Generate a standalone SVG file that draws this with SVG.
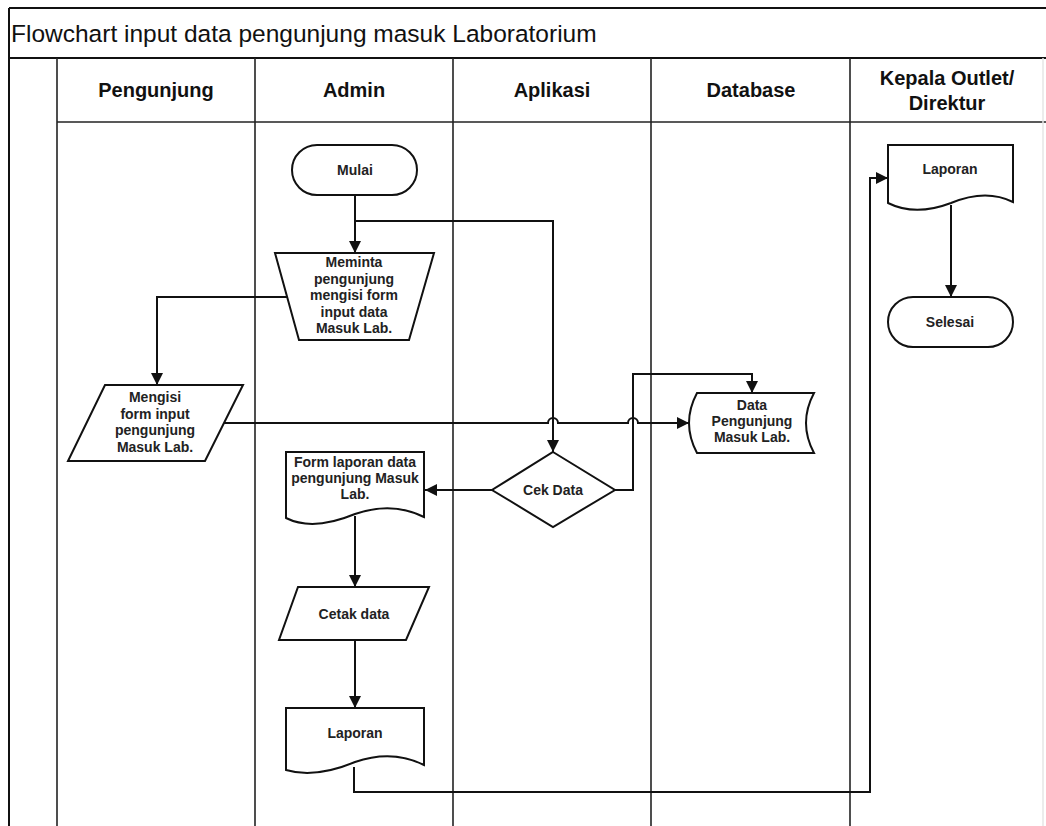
<svg xmlns="http://www.w3.org/2000/svg" width="1046" height="826" viewBox="0 0 1046 826">
  <defs>
    <marker id="arrow" viewBox="0 0 12 12" refX="12" refY="6" markerWidth="12" markerHeight="12" markerUnits="userSpaceOnUse" orient="auto">
      <path d="M0,0 L12,6 L0,12 Z" fill="#111"/>
    </marker>
  </defs>
  <style>
    .frame { stroke: #111; stroke-width: 2; fill: none; }
    .lane { stroke: #222; stroke-width: 1.6; fill: none; }
    .shape { stroke: #111; stroke-width: 2; fill: #fff; }
    .conn { stroke: #111; stroke-width: 2; fill: none; }
    .title { font-family: "Liberation Sans", Arial, sans-serif; font-size: 24.5px; fill: #111; }
    .head { font-family: "Liberation Sans", Arial, sans-serif; font-size: 20px; font-weight: bold; fill: #111; text-anchor: middle; dominant-baseline: central; }
    .lbl { font-family: "Liberation Sans", Arial, sans-serif; font-size: 14px; font-weight: bold; fill: #222; text-anchor: middle; dominant-baseline: central; }
  </style>
  <rect width="1046" height="826" fill="#fff"/>

  <!-- pool frame, title bar and swimlanes -->
  <g id="pool">
    <line class="frame" x1="9" y1="8" x2="1046" y2="8"/>
    <line class="frame" x1="9" y1="8" x2="9" y2="826"/>
    <line class="frame" x1="9" y1="58" x2="1046" y2="58"/>
    <line class="lane" x1="57" y1="122" x2="1046" y2="122"/>
    <line class="lane" x1="57" y1="58" x2="57" y2="826"/>
    <line class="lane" x1="255" y1="58" x2="255" y2="826"/>
    <line class="lane" x1="453" y1="58" x2="453" y2="826"/>
    <line class="lane" x1="651" y1="58" x2="651" y2="826"/>
    <line class="lane" x1="850" y1="58" x2="850" y2="826"/>
    <line x1="1043" y1="58" x2="1043" y2="826" stroke="#e6e6e6" stroke-width="1.5"/>
    <text class="title" x="11" y="42">Flowchart input data pengunjung masuk Laboratorium</text>
    <text class="head" x="156" y="90">Pengunjung</text>
    <text class="head" x="354" y="90">Admin</text>
    <text class="head" x="552" y="90">Aplikasi</text>
    <text class="head" x="751" y="90">Database</text>
    <text class="head" x="947" y="78">Kepala Outlet/</text>
    <text class="head" x="947" y="103">Direktur</text>
  </g>

  <!-- connectors -->
  <g id="connectors">
    <path class="conn" d="M355,195 V253" marker-end="url(#arrow)"/>
    <path class="conn" d="M355,221 H553 V452" marker-end="url(#arrow)"/>
    <path class="conn" d="M287,297 H157 V385" marker-end="url(#arrow)"/>
    <path class="conn" d="M224,423 H548 A5,5 0 0 1 558,423 H628 A5,5 0 0 1 638,423 H689" marker-end="url(#arrow)"/>
    <path class="conn" d="M615,490 H633 V374 H752 V393" marker-end="url(#arrow)"/>
    <path class="conn" d="M492,490 H425" marker-end="url(#arrow)"/>
    <path class="conn" d="M355,516 V587" marker-end="url(#arrow)"/>
    <path class="conn" d="M355,640 V708" marker-end="url(#arrow)"/>
    <path class="conn" d="M354,767 V792 H870 V178 H888" marker-end="url(#arrow)"/>
    <path class="conn" d="M951,205 V297" marker-end="url(#arrow)"/>
  </g>

  <g id="mulai">
    <rect class="shape" x="292" y="145" width="125" height="50" rx="25"/>
    <text class="lbl" x="355" y="170">Mulai</text>
  </g>

  <g id="meminta">
    <path class="shape" d="M275,253 H434 L409,340 H299 Z"/>
    <text class="lbl" x="354" y="262">Meminta</text>
    <text class="lbl" x="354" y="279">pengunjung</text>
    <text class="lbl" x="354" y="295">mengisi form</text>
    <text class="lbl" x="354" y="312">input data</text>
    <text class="lbl" x="354" y="328">Masuk Lab.</text>
  </g>

  <g id="mengisi">
    <path class="shape" d="M105,385 H243 L205,461 H68 Z"/>
    <text class="lbl" x="155" y="397">Mengisi</text>
    <text class="lbl" x="155" y="414">form input</text>
    <text class="lbl" x="155" y="430">pengunjung</text>
    <text class="lbl" x="155" y="447">Masuk Lab.</text>
  </g>

  <g id="data-pengunjung">
    <path class="shape" d="M697,393 H814 Q798,423 814,453 H697 Q681,423 697,393 Z"/>
    <text class="lbl" x="752" y="405">Data</text>
    <text class="lbl" x="752" y="421">Pengunjung</text>
    <text class="lbl" x="752" y="437">Masuk Lab.</text>
  </g>

  <g id="cek-data">
    <path class="shape" d="M553,452 L615,490 L553,527 L492,490 Z"/>
    <text class="lbl" x="553" y="490">Cek Data</text>
  </g>

  <g id="form-laporan">
    <path class="shape" d="M286,452 H424 V517 C404,507 381,505 355,514 C331,524 306,528 286,518 Z"/>
    <text class="lbl" x="355" y="462">Form laporan data</text>
    <text class="lbl" x="355" y="478">pengunjung Masuk</text>
    <text class="lbl" x="355" y="494">Lab.</text>
  </g>

  <g id="cetak-data">
    <path class="shape" d="M298,587 H429 L406,640 H279 Z"/>
    <text class="lbl" x="354" y="614">Cetak data</text>
  </g>

  <g id="laporan-admin">
    <path class="shape" d="M286,708 H424 V765 C404,755 381,753 355,762 C331,772 306,776 286,770 Z"/>
    <text class="lbl" x="355" y="733">Laporan</text>
  </g>

  <g id="laporan-kepala">
    <path class="shape" d="M888,145 H1013 V202 C995,193 975,193 951,203 C930,211 908,213 888,203 Z"/>
    <text class="lbl" x="950" y="169">Laporan</text>
  </g>

  <g id="selesai">
    <rect class="shape" x="888" y="297" width="125" height="50" rx="25"/>
    <text class="lbl" x="950" y="322">Selesai</text>
  </g>
</svg>
